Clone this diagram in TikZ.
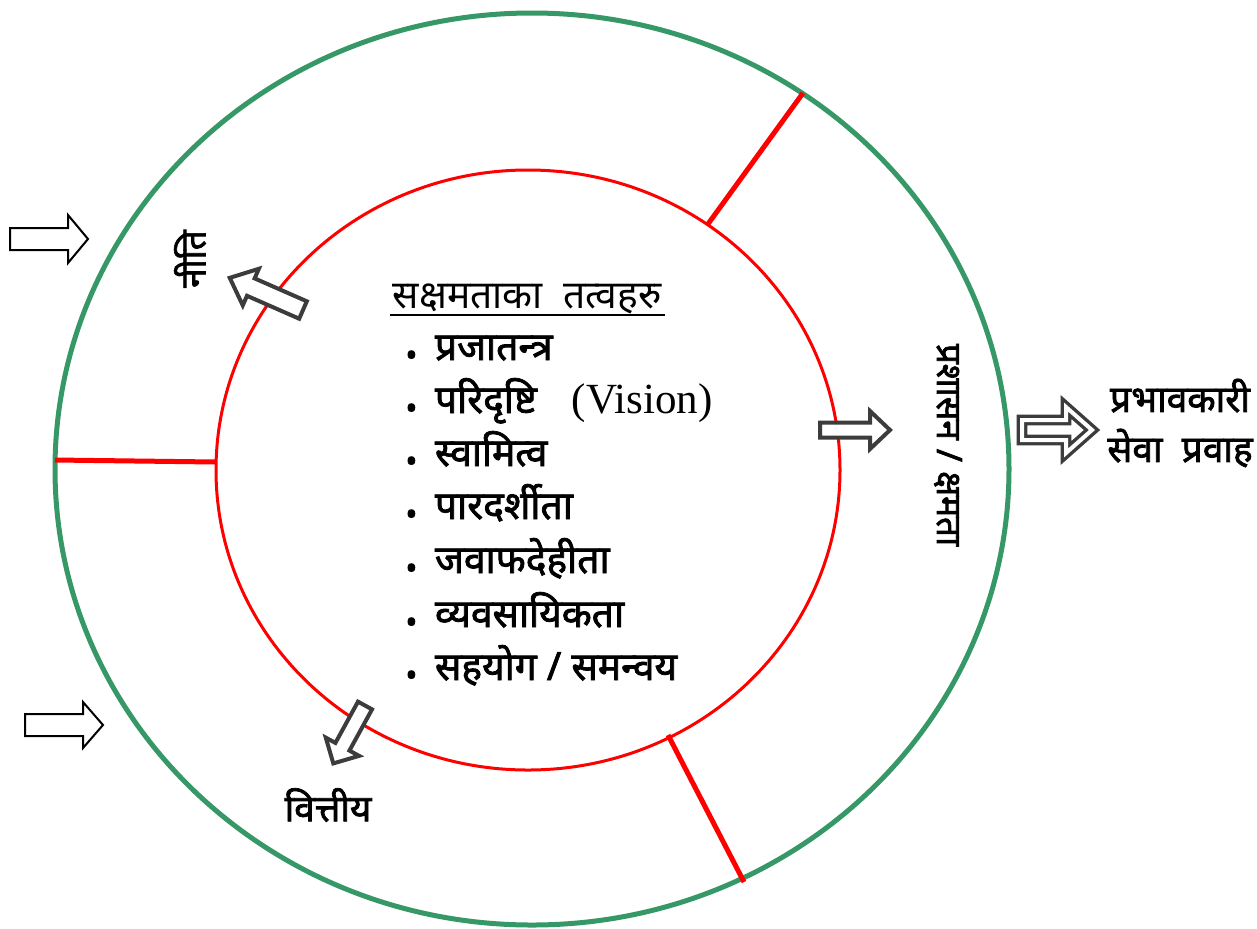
\documentclass[tikz,border=0pt]{standalone}
\usepackage{fontspec}
\newfontfamily\dev[Script=Devanagari]{Noto Sans}
\newfontfamily\devb[Script=Devanagari, FakeBold=2]{Noto Sans}
\newfontfamily\lser{Liberation Serif}
\definecolor{ringgreen}{RGB}{54,152,102}
\definecolor{ringred}{RGB}{255,0,0}
\definecolor{arrgray}{RGB}{60,60,60}
\newcommand{\bul}{\raisebox{-0.3ex}{\fontsize{16}{16}\selectfont •}\hspace{0.45em}}
\tikzset{
  pics/barrow/.style n args={4}{code={%
    \draw[pic actions] (0,-#2) -- ({#1-#4},-#2) -- ({#1-#4},-#3) -- (#1,0) -- ({#1-#4},#3) -- ({#1-#4},#2) -- (0,#2) -- cycle;
  }},
  outerring/.style={draw=ringgreen, line width=2.5pt},
  innerring/.style={draw=ringred, line width=1.5pt},
  spoke/.style={draw=ringred, line width=2.5pt},
  leftarrow/.style={draw=black, fill=white, line width=1pt, line join=miter},
  innerarrow/.style={draw=arrgray, fill=white, line width=2pt, line join=miter},
  dblarrow/.style={draw=arrgray, double=white, double distance=2pt, line width=1.7pt, line join=miter},
  devbold/.style={font=\devb\fontsize{18.5}{20}\selectfont, inner sep=0pt},
  item/.style={font=\devb\fontsize{19.5}{21}\selectfont, inner sep=0pt, anchor=base west},
}
\begin{document}
\begin{tikzpicture}[x=0.5pt, y=-0.5pt]
\useasboundingbox (0,0) rectangle (1257,928);
% rings
\draw[outerring] (532,469) ellipse [x radius=477, y radius=456];
\draw[innerring] (528,470) ellipse [x radius=312, y radius=300];
% spokes
\coordinate (s1a) at (708,224); \coordinate (s1b) at (803,93);
\coordinate (s2a) at (216,462); \coordinate (s2b) at (55,460);
\coordinate (s3a) at (668,735); \coordinate (s3b) at (744,882);
\draw[spoke] (s1a) -- (s1b);
\draw[spoke] (s2a) -- (s2b);
\draw[spoke] (s3a) -- (s3b);
% left input arrows
\pic[leftarrow] at (10,239) {barrow={78}{11}{24}{20}};
\pic[leftarrow] at (25,725) {barrow={78}{11}{23}{20}};
% inner arrows
\pic[innerarrow, rotate=156.3] at (303,310) {barrow={80}{9.5}{20}{23}};
\pic[innerarrow, rotate=241.3] at (365,705.5) {barrow={66}{8}{19}{19}};
\pic[innerarrow] at (820,430) {barrow={70}{7.5}{19}{20}};
\pic[dblarrow] at (1022,430) {barrow={70}{10}{23}{26}};
% title
\node[font=\dev\fontsize{19.5}{21}\selectfont, inner sep=0pt, anchor=base] (title) at (527,308) {सक्षमताका\ \ तत्वहरु};
\draw[line width=0.8pt] (390,315) -- (665,315);
% items
\node[item] (i1) at (405,360) {\bul प्रजातन्त्र};
\node[item] (i2) at (405,413) {\bul परिदृष्टि\hspace{0.9em}{\lser\mdseries\fontsize{21.5}{22}\selectfont (Vision)}};
\node[item] (i3) at (405,466) {\bul स्वामित्व};
\node[item] (i4) at (405,519) {\bul पारदर्शीता};
\node[item] (i5) at (405,573) {\bul जवाफदेहीता};
\node[item] (i6) at (405,627) {\bul व्यवसायिकता};
\node[item] (i7) at (405,680) {\bul सहयोग / समन्वय};
% ring labels
\node[devbold, rotate=90, font=\devb\fontsize{17.5}{20}\selectfont] (niti) at (190,259) {नीति};
\node[devbold] (bittiya) at (328,805) {वित्तीय};
\node[devbold, rotate=-90, font=\devb\fontsize{17.5}{20}\selectfont] (prashasan) at (948,445) {प्रशासन / क्षमता};
\node[devbold, align=center, font=\devb\fontsize{18.5}{25}\selectfont] (output) at (1180,423) {प्रभावकारी\\सेवा\ \ प्रवाह};
\end{tikzpicture}
\end{document}
